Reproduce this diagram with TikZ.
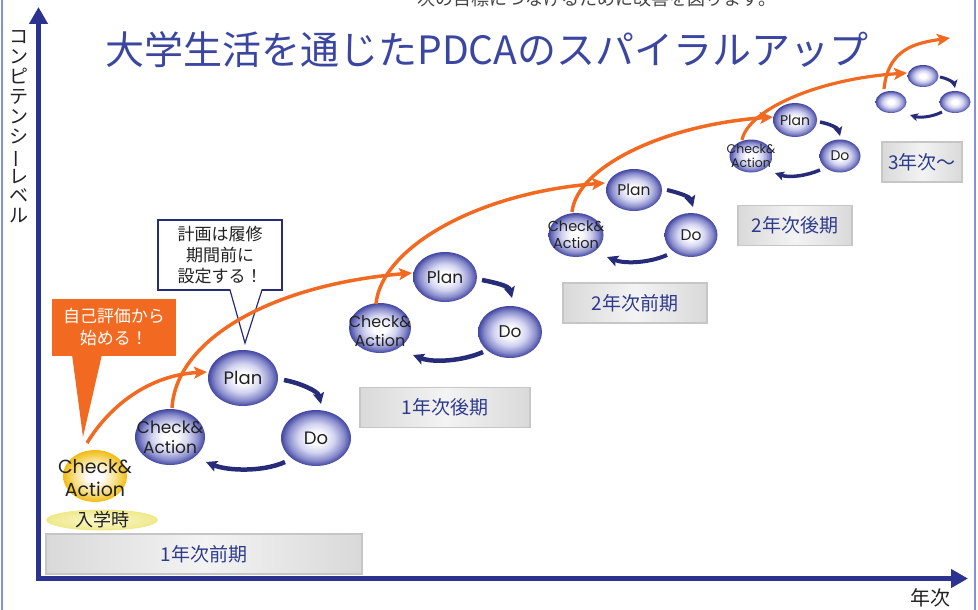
\documentclass[tikz,border=0pt]{standalone}
\usepackage{fontspec}
\setmainfont{Noto Sans CJK JP}
\newfontfamily\popfam{Poppins}
\usetikzlibrary{arrows.meta,shapes.geometric}
\definecolor{navy}{HTML}{2B3290}
\definecolor{arrnavy}{HTML}{262C78}
\definecolor{orng}{HTML}{F26A21}
\definecolor{titleblue}{HTML}{3A46A0}
\definecolor{boxtext}{HTML}{2E3A8C}
\definecolor{balllight}{HTML}{D2D3F0}
\definecolor{ballmid}{HTML}{8A8DCC}
\definecolor{ballout}{HTML}{4246A0}
\definecolor{goldout}{HTML}{F0BC14}
\definecolor{goldmid}{HTML}{F9E08A}
\definecolor{edgeblue}{HTML}{8092D8}
\definecolor{textgray}{HTML}{222222}
\definecolor{toptext}{HTML}{444444}
\definecolor{boxedge}{HTML}{D9D9D9}
\definecolor{boxmid}{HTML}{F3F3F3}
\definecolor{boxborder}{HTML}{C6C6C6}
\definecolor{paleyin}{HTML}{FAF8D2}
\definecolor{paleyout}{HTML}{EFE98A}
\pgfdeclareradialshading{blueball}{\pgfpoint{0bp}{0bp}}{color(0bp)=(white); color(5bp)=(white); color(13bp)=(balllight); color(20bp)=(ballmid); color(25bp)=(ballout); color(50bp)=(ballout)}
\pgfdeclareradialshading{goldball}{\pgfpoint{0bp}{0bp}}{color(0bp)=(white); color(6bp)=(white); color(16bp)=(goldmid); color(25bp)=(goldout); color(50bp)=(goldout)}
\newcommand\advf[2]{\popfam\fontsize{#1}{#2}\selectfont}
\newcommand\jpf[2]{\fontsize{#1}{#2}\selectfont}
\begin{document}
\begin{tikzpicture}[x=1pt,y=-1pt,
  ball/.style={shape=ellipse, inner sep=0pt, shading=blueball, draw=none},
  goldb/.style={shape=ellipse, inner sep=0pt, shading=goldball, draw=none},
  balltxt/.style={align=center, text=textgray, inner sep=0pt},
  period/.style={draw=boxborder, line width=1.2pt, left color=boxedge, right color=boxedge, middle color=boxmid, text=boxtext, font=\jpf{19}{22}, inner sep=0pt, minimum height=40pt},
  cyc/.style={draw=arrnavy, line width=4.5pt, -{Stealth[length=11pt,width=11pt,inset=2pt]}},
  spiral/.style={draw=orng, line width=3.5pt, -{Stealth[length=13pt,width=12pt,inset=3pt]}}
]
\useasboundingbox (0,0) rectangle (978,610);
\clip (0,0) rectangle (978,610);

% side lines
\draw[edgeblue, line width=2pt] (1.5,0) -- (1.5,610);
\draw[edgeblue, line width=2pt] (974.5,0) -- (974.5,610);

% top cut text and title
\node[anchor=base, text=toptext, font=\jpf{18}{20}, inner sep=0pt] (toptxt) at (597,5.5) {次の目標につなげるために改善を図ります。};
\node[text=titleblue, font=\jpf{39}{42}, inner sep=0pt] (title) at (487,50) {大学生活を通じたPDCAのスパイラルアップ};

% axes
\coordinate (ytop) at (38.5,7);
\coordinate (origin) at (38.5,578.5);
\coordinate (xend) at (968,578.5);
\draw[navy, line width=5.5pt, line join=miter, {Triangle[length=17pt,width=18pt]}-{Triangle[length=17pt,width=18pt]}] (ytop) -- (origin) -- (xend);
\node[align=center, text=textgray, font=\jpf{19}{19.9}, inner sep=0pt] (ylab) at (19,127) {コ\\ン\\ピ\\テ\\ン\\シ\\\rotatebox[origin=c]{90}{ー}\\レ\\ベ\\ル};
\node[text=textgray, font=\jpf{20}{22}, inner sep=0pt] (xlab) at (930,598) {年次};

% period boxes
\node[period, minimum width=316pt] (b1) at (204,554) {1年次前期};
\node[period, minimum width=170pt] (b2) at (445,407.5) {1年次後期};
\node[period, minimum width=144pt] (b3) at (635,303) {2年次前期};
\node[period, minimum width=114pt] (b4) at (795,225.5) {2年次後期};
\node[period, minimum width=80pt] (b5) at (922,162) {3年次～};

% entrance
\node[shape=ellipse, inner sep=0pt, inner color=paleyin, outer color=paleyout, minimum width=112pt, minimum height=21pt] (nyu) at (102,520) {};
\node[text=textgray, font=\jpf{18}{20}, inner sep=0pt] at (nyu) {入学時};
\node[goldb, minimum width=64pt, minimum height=52pt] (y0) at (95,476) {};
\node[balltxt, font={\advf{19}{23}}] at ([shift={(0,2)}]y0.center) {Check\&\\Action};

% stage 1
\node[ball, minimum width=70pt, minimum height=56pt] (ca1) at (170,437) {};
\node[ball, minimum width=70pt, minimum height=56pt] (p1) at (243,378) {};
\node[ball, minimum width=70pt, minimum height=56pt] (d1) at (316,438) {};
\node[balltxt, font={\advf{17}{20}}] at (ca1) {Check\&\\Action};
\node[balltxt, font={\advf{18}{20}}] at (p1) {Plan};
\node[balltxt, font={\advf{18}{20}}] at (d1) {Do};
\draw[cyc] ([shift={(41,2)}]p1.center) .. controls +(16,3) and +(-3,-13) .. ([shift={(5,-34)}]d1.center);
\draw[cyc] ([shift={(-31,24)}]d1.center) .. controls +(-22,10) and +(22,9) .. ([shift={(36,25)}]ca1.center);

% stage 2
\node[ball, minimum width=62pt, minimum height=50pt] (ca2) at (380,328) {};
\node[ball, minimum width=64pt, minimum height=50pt] (p2) at (445,277) {};
\node[ball, minimum width=64pt, minimum height=52pt] (d2) at (510,332) {};
\node[balltxt, font={\advf{16}{19}}] at ([shift={(0,3)}]ca2.center) {Check\&\\Action};
\node[balltxt, font={\advf{17}{20}}] at (p2) {Plan};
\node[balltxt, font={\advf{17}{20}}] at (d2) {Do};
\draw[cyc] ([shift={(37,3)}]p2.center) .. controls +(15,3) and +(-3,-12) .. ([shift={(2,-34)}]d2.center);
\draw[cyc] ([shift={(-27,20)}]d2.center) .. controls +(-20,9) and +(20,8) .. ([shift={(33,27)}]ca2.center);

% stage 3
\node[ball, minimum width=55pt, minimum height=44pt] (ca3) at (576,235) {};
\node[ball, minimum width=56pt, minimum height=42pt] (p3) at (634,190) {};
\node[ball, minimum width=53pt, minimum height=44pt] (d3) at (691,235) {};
\node[balltxt, font={\advf{14.5}{17}}] at (ca3) {Check\&\\Action};
\node[balltxt, font={\advf{15.5}{18}}] at (p3) {Plan};
\node[balltxt, font={\advf{15.5}{18}}] at (d3) {Do};
\draw[cyc, line width=4pt] ([shift={(33,0)}]p3.center) .. controls +(13,3) and +(-3,-10) .. ([shift={(2,-28)}]d3.center);
\draw[cyc, line width=4pt] ([shift={(-24,20)}]d3.center) .. controls +(-18,8) and +(18,7) .. ([shift={(31,22)}]ca3.center);

% stage 4
\node[ball, minimum width=43pt, minimum height=33pt] (ca4) at (751,156) {};
\node[ball, minimum width=44pt, minimum height=34pt] (p4) at (795,120) {};
\node[ball, minimum width=41pt, minimum height=33pt] (d4) at (840,156) {};
\node[balltxt, font={\advf{12.5}{14.5}}] at (ca4) {Check\&\\Action};
\node[balltxt, font={\advf{14}{16}}] at (p4) {Plan};
\node[balltxt, font={\advf{14}{16}}] at (d4) {Do};
\draw[cyc, line width=3.5pt, -{Stealth[length=9pt,width=9pt,inset=2pt]}] ([shift={(25,2)}]p4.center) .. controls +(10,2) and +(-2,-8) .. ([shift={(0,-20)}]d4.center);
\draw[cyc, line width=3.5pt, -{Stealth[length=9pt,width=9pt,inset=2pt]}] ([shift={(-20,14)}]d4.center) .. controls +(-14,6) and +(14,5) .. ([shift={(24,17)}]ca4.center);

% stage 5
\node[ball, minimum width=31pt, minimum height=22pt] (t5) at (923,76) {};
\node[ball, minimum width=31pt, minimum height=22pt] (l5) at (891,102) {};
\node[ball, minimum width=31pt, minimum height=22pt] (r5) at (955,102) {};
\draw[cyc, line width=3pt, -{Stealth[length=8pt,width=8pt,inset=2pt]}] ([shift={(17,1)}]t5.center) .. controls +(7,1) and +(-1,-5) .. ([shift={(0,-14)}]r5.center);
\draw[cyc, line width=3pt, -{Stealth[length=8pt,width=8pt,inset=2pt]}] ([shift={(-13,10)}]r5.center) .. controls +(-10,5) and +(10,3) .. ([shift={(19,13)}]l5.center);

% callouts
\node[fill=orng, text=white, minimum width=124pt, minimum height=57pt, align=center, font=\jpf{17}{22}, inner sep=0pt] (cb1) at (114,327.5) {自己評価から\\始める！};
\fill[orng] ([shift={(-42,27)}]cb1.center) -- ([shift={(-31,109.5)}]cb1.center) -- ([shift={(-12,27)}]cb1.center) -- cycle;

\node[draw=arrnavy, fill=white, line width=1.2pt, minimum width=124pt, minimum height=70pt, align=center, font=\jpf{17}{21}, text=textgray, inner sep=0pt] (cb2) at (220,255) {計画は履修\\期間前に\\設定する！};
\fill[white] ([shift={(10,33)}]cb2.center) -- ([shift={(25,88)}]cb2.center) -- ([shift={(42,33)}]cb2.center) -- cycle;
\draw[arrnavy, line width=1.2pt, line join=miter] ([shift={(10,35)}]cb2.center) -- ([shift={(25,88)}]cb2.center) -- ([shift={(42,35)}]cb2.center);

% spiral arrows
\coordinate (o6end) at (950,38);
\draw[spiral] ([shift={(-8,-33)}]y0.center) .. controls +(23,-38) and +(-57,3) .. ([shift={(-36,-6)}]p1.center);
\draw[spiral] ([shift={(2,-29)}]ca1.center) .. controls +(4,-68) and +(-142,12) .. ([shift={(-33,-4)}]p2.center);
\draw[spiral] ([shift={(-4,-24)}]ca2.center) .. controls +(5,-55) and +(-130,10) .. ([shift={(-29,-7)}]p3.center);
\draw[spiral] ([shift={(-4,-23)}]ca3.center) .. controls +(5,-45) and +(-110,8) .. ([shift={(-22,-3)}]p4.center);
\draw[spiral, line width=3.2pt] ([shift={(-9,-16)}]ca4.center) .. controls +(6,-30) and +(-90,6) .. ([shift={(-16,-3)}]t5.center);
\draw[spiral, line width=3.2pt] ([shift={(-7,-13)}]l5.center) .. controls +(4,-40) and +(-35,5) .. (o6end);
\end{tikzpicture}
\end{document}
